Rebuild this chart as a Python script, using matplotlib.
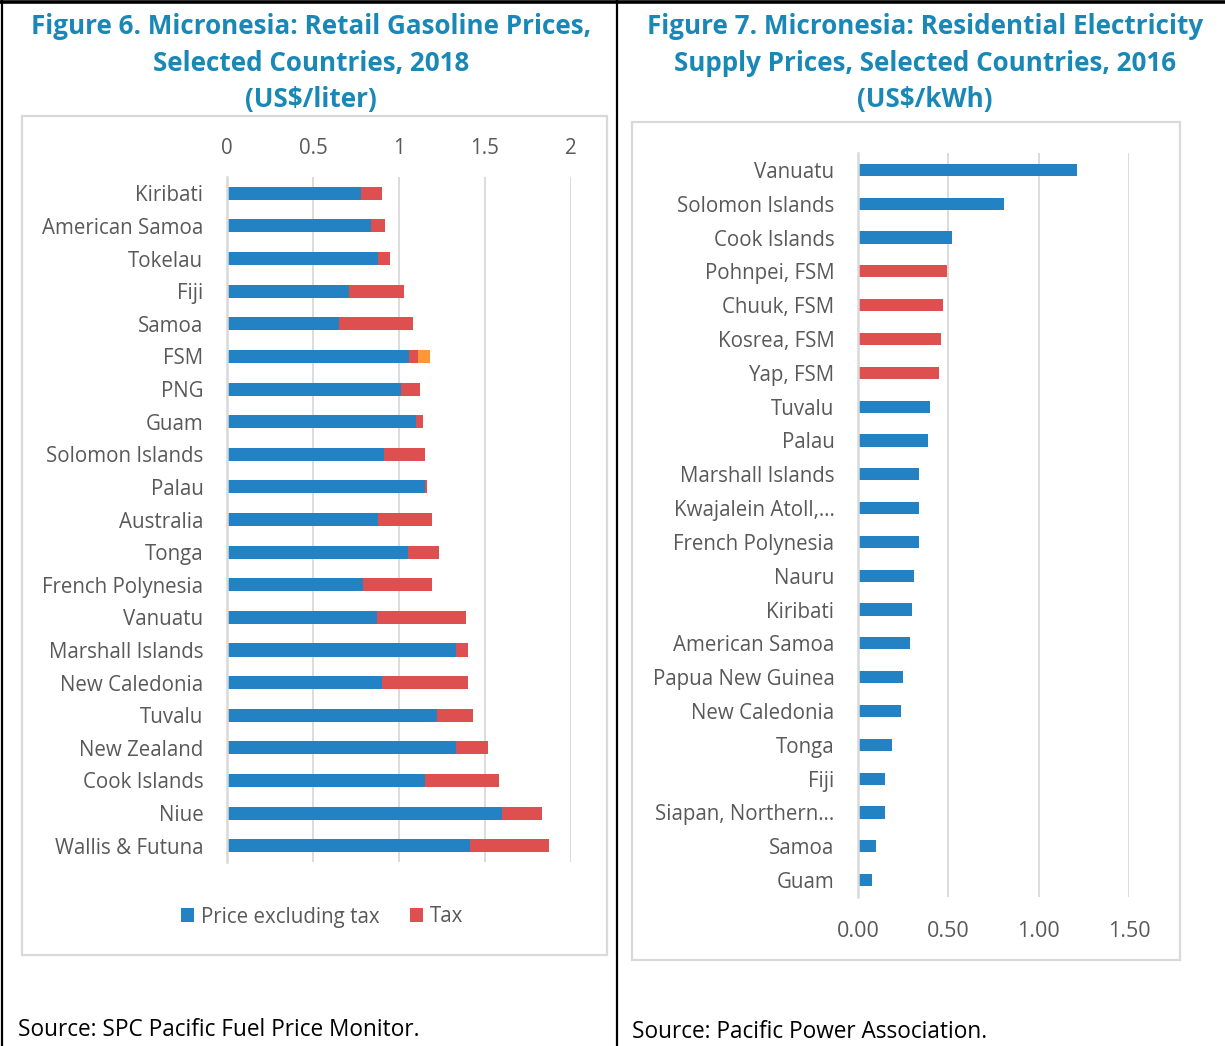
import matplotlib
matplotlib.use("Agg")
import matplotlib.pyplot as plt
from matplotlib.patches import Rectangle
from matplotlib.lines import Line2D

# ---------------- data ----------------
gas_countries = ["Kiribati", "American Samoa", "Tokelau", "Fiji", "Samoa", "FSM", "PNG",
                 "Guam", "Solomon Islands", "Palau", "Australia", "Tonga", "French Polynesia",
                 "Vanuatu", "Marshall Islands", "New Caledonia", "Tuvalu", "New Zealand",
                 "Cook Islands", "Niue", "Wallis & Futuna"]
gas_price_ex_tax = [0.78, 0.84, 0.88, 0.71, 0.65, 1.06, 1.01, 1.10, 0.91, 1.15, 0.88, 1.05,
                    0.79, 0.87, 1.33, 0.90, 1.22, 1.33, 1.15, 1.60, 1.41]
gas_tax = [0.12, 0.08, 0.07, 0.32, 0.43, 0.05, 0.11, 0.04, 0.24, 0.01, 0.31, 0.18,
           0.40, 0.52, 0.07, 0.50, 0.21, 0.19, 0.43, 0.23, 0.46]
gas_other = [0, 0, 0, 0, 0, 0.07, 0, 0, 0, 0, 0, 0, 0, 0, 0, 0, 0, 0, 0, 0, 0]
gas_ticks = [0, 0.5, 1, 1.5, 2]
gas_tick_labels = ["0", "0.5", "1", "1.5", "2"]

elec_countries = ["Vanuatu", "Solomon Islands", "Cook Islands", "Pohnpei, FSM", "Chuuk, FSM",
                  "Kosrea, FSM", "Yap, FSM", "Tuvalu", "Palau", "Marshall Islands",
                  "Kwajalein Atoll,…", "French Polynesia", "Nauru", "Kiribati", "American Samoa",
                  "Papua New Guinea", "New Caledonia", "Tonga", "Fiji", "Siapan, Northern…",
                  "Samoa", "Guam"]
elec_prices = [1.21, 0.81, 0.52, 0.49, 0.47, 0.46, 0.45, 0.40, 0.39, 0.34, 0.34, 0.34,
               0.31, 0.30, 0.29, 0.25, 0.24, 0.19, 0.15, 0.15, 0.10, 0.08]
elec_is_fsm = [False, False, False, True, True, True, True, False, False, False, False,
               False, False, False, False, False, False, False, False, False, False, False]
elec_ticks = [0, 0.5, 1.0, 1.5]
elec_tick_labels = ["0.00", "0.50", "1.00", "1.50"]

# ---------------- style ----------------
BLUE = "#2382C3"
RED = "#DE4F4F"
ORANGE = "#FF9638"
TITLE_C = "#1A88B6"
TXT = "#595959"
GRID = "#D9D9D9"
FONT = "Open Sans"

W, H = 1225, 1046
fig = plt.figure(figsize=(W / 100, H / 100), dpi=100)
fig.patch.set_facecolor("white")


def px_axes(l, t, r, b):
    return fig.add_axes([l / W, 1 - b / H, (r - l) / W, (b - t) / H])


def fx(x):
    return x / W


def fy(y):
    return 1 - y / H


# ---------------- outer frame lines ----------------
fig.add_artist(Line2D([0, 1], [fy(1.5), fy(1.5)], color="black", lw=2.6, transform=fig.transFigure))
fig.add_artist(Line2D([fx(2), fx(2)], [0, 1], color="black", lw=1.6, transform=fig.transFigure))
fig.add_artist(Line2D([fx(617), fx(617)], [0, 1], color="black", lw=1.6, transform=fig.transFigure))

# chart boxes
fig.add_artist(Rectangle((fx(22), fy(955)), (607 - 22) / W, (955 - 116) / H, fill=False,
                         edgecolor=GRID, lw=1.6, transform=fig.transFigure))
fig.add_artist(Rectangle((fx(632), fy(960)), (1180 - 632) / W, (960 - 122) / H, fill=False,
                         edgecolor=GRID, lw=1.6, transform=fig.transFigure))

# titles
title_kw = dict(ha="center", va="center", color=TITLE_C, fontsize=18.7, fontweight="bold",
                family=FONT)
for i, line in enumerate(["Figure 6. Micronesia: Retail Gasoline Prices,",
                          "Selected Countries, 2018", "(US$/liter)"]):
    fig.text(fx(311), fy(27 + 36.5 * i), line, **title_kw)
for i, line in enumerate(["Figure 7. Micronesia: Residential Electricity",
                          "Supply Prices, Selected Countries, 2016", "(US$/kWh)"]):
    fig.text(fx(925), fy(27 + 36.5 * i), line, **title_kw)

# sources
fig.text(fx(18), fy(1030), "Source: SPC Pacific Fuel Price Monitor.", ha="left", va="center",
         fontsize=16.3, family=FONT, color="black")
fig.text(fx(632), fy(1032), "Source: Pacific Power Association.", ha="left", va="center",
         fontsize=16.3, family=FONT, color="black")

LAB = 14.8

# ---------------- left chart ----------------
ax1 = px_axes(227, 177, 571, 862)
y1 = list(range(len(gas_countries)))
h = 0.4
b1 = ax1.barh(y1, gas_price_ex_tax, height=h, color=BLUE, label="Price excluding tax", zorder=3)
b2 = ax1.barh(y1, gas_tax, left=gas_price_ex_tax, height=h, color=RED, label="Tax", zorder=3)
left3 = [a + b for a, b in zip(gas_price_ex_tax, gas_tax)]
ax1.barh(y1, gas_other, left=left3, height=h, color=ORANGE, zorder=3)
ax1.set_ylim(len(gas_countries) - 0.5, -0.5)
ax1.set_xlim(0, 2)
ax1.xaxis.tick_top()
ax1.set_xticks(gas_ticks)
ax1.set_xticklabels(gas_tick_labels)
ax1.set_yticks(y1)
ax1.set_yticklabels(gas_countries)
ax1.grid(axis="x", color=GRID, lw=1.3, zorder=0)
for s in ["top", "right", "bottom"]:
    ax1.spines[s].set_visible(False)
ax1.spines["left"].set_color(GRID)
ax1.spines["left"].set_linewidth(1.8)
ax1.spines["left"].set_zorder(4)
ax1.tick_params(length=0, labelsize=LAB, labelcolor=TXT)
ax1.tick_params(axis="x", pad=13)
ax1.tick_params(axis="y", pad=17)
for lab in ax1.get_xticklabels() + ax1.get_yticklabels():
    lab.set_family(FONT)

leg = fig.legend(handles=[b1, b2], labels=["Price excluding tax", "Tax"],
                 loc="center", bbox_to_anchor=(fx(322), fy(917)), ncol=2, frameon=False,
                 handlelength=0.65, handleheight=0.65, handletextpad=0.3, columnspacing=1.5,
                 prop={"family": FONT, "size": LAB})
for t in leg.get_texts():
    t.set_color(TXT)

# ---------------- right chart ----------------
ax2 = px_axes(858, 153, 1129, 897)
y2 = list(range(len(elec_countries)))
colors2 = [RED if f else BLUE for f in elec_is_fsm]
ax2.barh(y2, elec_prices, height=0.36, color=colors2, zorder=3)
ax2.set_ylim(len(elec_countries) - 0.5, -0.5)
ax2.set_xlim(0, 1.5)
ax2.set_xticks(elec_ticks)
ax2.set_xticklabels(elec_tick_labels)
ax2.set_yticks(y2)
ax2.set_yticklabels(elec_countries)
ax2.grid(axis="x", color=GRID, lw=1.3, zorder=0)
for s in ["top", "right", "bottom"]:
    ax2.spines[s].set_visible(False)
ax2.spines["left"].set_color(GRID)
ax2.spines["left"].set_linewidth(1.8)
ax2.spines["left"].set_zorder(4)
ax2.tick_params(length=0, labelsize=LAB, labelcolor=TXT)
ax2.tick_params(axis="x", pad=17, labelsize=15.5)
ax2.tick_params(axis="y", pad=17)
for lab in ax2.get_xticklabels() + ax2.get_yticklabels():
    lab.set_family(FONT)

fig.savefig("out.png", dpi=100, facecolor="white")
